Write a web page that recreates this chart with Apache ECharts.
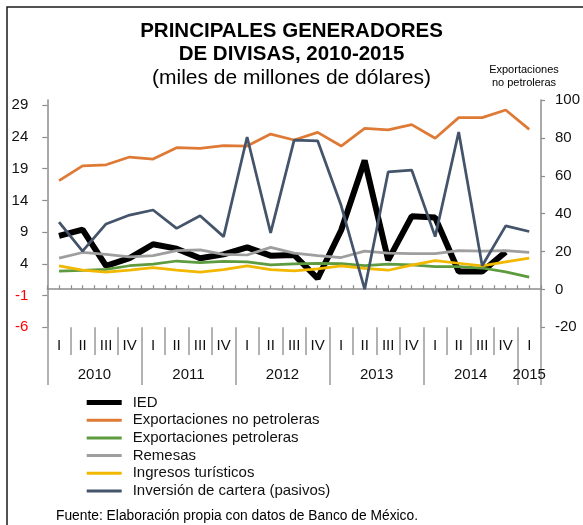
<!DOCTYPE html>
<html>
<head>
<meta charset="utf-8">
<title>Principales generadores de divisas, 2010-2015</title>
<script src="https://cdn.jsdelivr.net/npm/echarts@6/dist/echarts.min.js"></script>
<style>
  html, body { margin: 0; padding: 0; background: #fff; }
  #echart { width: 583px; height: 525px; }
</style>
</head>
<body>
<div id="echart"></div>
<script>
// trimestres y años (etiquetas del eje horizontal)
const quarters = ["I", "II", "III", "IV", "I", "II", "III", "IV", "I", "II", "III", "IV",
  "I", "II", "III", "IV", "I", "II", "III", "IV", "I"];
const years = ["2010", "2010", "2010", "2010", "2011", "2011", "2011", "2011", "2012", "2012", "2012", "2012",
  "2013", "2013", "2013", "2013", "2014", "2014", "2014", "2014", "2015"];

// miles de millones de dólares (eje izquierdo)
const ied = [8.4, 9.4, 3.7, 4.9, 7.1, 6.4, 4.9, 5.5, 6.6, 5.3, 5.4, 1.7, 9.3, 20.3, 4.6, 11.5, 11.3, 2.8, 2.8, 5.9, null];
const remesas = [4.9, 5.8, 5.5, 5.1, 5.3, 6.1, 6.2, 5.5, 5.4, 6.6, 5.7, 5.3, 5.0, 6.0, 5.7, 5.6, 5.6, 6.1, 6.0, 6.1, 5.8];
const turismo = [3.7, 3.0, 2.7, 3.0, 3.4, 3.0, 2.7, 3.1, 3.7, 3.1, 2.9, 3.2, 3.7, 3.3, 3.0, 3.8, 4.5, 4.1, 3.7, 4.3, 4.9];
const cartera = [10.6, 6.0, 10.3, 11.7, 12.5, 9.6, 11.6, 8.3, 24.0, 8.9, 23.5, 23.4, 13.2, 0.0, 18.5, 18.8, 8.3, 24.8, 3.7, 10.0, 9.1];
// eje derecho
const expNoPetroleras = [57.4, 65.2, 65.8, 69.9, 68.8, 74.8, 74.5, 75.9, 75.7, 82.0, 78.9, 82.9, 75.7, 85.0, 84.2, 87.0, 79.8, 90.7, 90.7, 94.7, 84.5];
const expPetroleras = [9.7, 10.1, 10.6, 12.5, 13.4, 15.0, 14.1, 14.8, 14.6, 13.0, 13.5, 13.8, 13.6, 12.5, 13.4, 13.0, 12.0, 12.0, 11.3, 9.3, 6.5];

const leftTicks = [-6, -1, 4, 9, 14, 19, 24, 29];

const periods = years.map((y, i) => y + "-" + quarters[i]);

// etiqueta del año en el centro de sus trimestres
const yearLabelAt = {};
years.forEach((y, i) => {
  if (i > 0 && years[i - 1] === y) return;
  let n = 0;
  while (years[i + n] === y) n++;
  const mid = i + (n - 1) / 2;
  yearLabelAt[Math.floor(mid)] = mid !== Math.floor(mid);
});

const font = "'Liberation Sans', Arial, sans-serif";
const gray = "#8c8c8c";
const thinIcon = "path://M0 0H35V3H0Z";

const myecharts = echarts.init(document.getElementById("echart"));

const baseX = {
  type: "category",
  gridIndex: 0,
  data: periods,
  position: "bottom",
  axisLabel: { show: false },
  axisTick: { show: false },
  axisLine: { show: false, onZero: false },
  splitLine: { show: false },
};

const options = {
  animation: false,
  textStyle: { fontFamily: font },
  graphic: [
    {
      type: "rect",
      shape: { x: 7, y: 7, width: 620, height: 560 },
      style: { fill: "none", stroke: "#1a1a1a", lineWidth: 1.5 },
      silent: true,
    },
  ],
  title: [
    {
      text: "PRINCIPALES GENERADORES\nDE DIVISAS, 2010-2015",
      left: "center",
      top: 19.5,
      padding: 0,
      textStyle: { fontSize: 20.5, fontWeight: "bold", lineHeight: 23.5, color: "#000", fontFamily: font },
    },
    {
      text: "(miles de millones de dólares)",
      left: "center",
      top: 66,
      padding: 0,
      textStyle: { fontSize: 21, fontWeight: "normal", lineHeight: 24, color: "#000", fontFamily: font },
    },
    {
      text: "Exportaciones\nno petroleras",
      left: 524,
      top: 63,
      padding: 0,
      textAlign: "center",
      textStyle: { fontSize: 11, fontWeight: "normal", lineHeight: 13.3, color: "#000", fontFamily: font },
    },
    {
      text: "Fuente: Elaboración propia con datos de Banco de México.",
      left: 56,
      top: 509,
      padding: 0,
      textStyle: { fontSize: 13.8, fontWeight: "normal", color: "#000", fontFamily: font },
    },
  ],
  legend: {
    orient: "vertical",
    left: 86.7,
    top: 395,
    padding: 0,
    itemWidth: 35,
    itemHeight: 5,
    itemGap: 2.7,
    symbolKeepAspect: true,
    selectedMode: false,
    itemStyle: { borderWidth: 0 },
    textStyle: { fontSize: 15, color: "#111", padding: [0, 0, 0, 6], fontFamily: font },
    data: [
      { name: "IED", icon: "rect" },
      { name: "Exportaciones no petroleras", icon: thinIcon },
      { name: "Exportaciones petroleras", icon: thinIcon },
      { name: "Remesas", icon: thinIcon },
      { name: "Ingresos turísticos", icon: thinIcon },
      { name: "Inversión de cartera (pasivos)", icon: thinIcon },
    ],
  },
  grid: { left: 47.3, right: 35.8, top: 100, bottom: 197.7 },
  xAxis: [
    // trimestres
    {
      ...baseX,
      axisTick: { show: true, interval: 0, length: 27.7, lineStyle: { color: "#999", width: 1.5 } },
      axisLabel: {
        show: true,
        interval: 0,
        margin: 11,
        fontSize: 15,
        color: "#111",
        formatter: (v, i) => quarters[i],
      },
    },
    // años
    {
      ...baseX,
      axisTick: {
        show: true,
        interval: (i) => i === 0 || years[i] !== years[i - 1],
        length: 57.7,
        lineStyle: { color: "#999", width: 1.5 },
      },
      axisLabel: {
        show: true,
        interval: (i) => i in yearLabelAt,
        margin: 40,
        fontSize: 15,
        color: "#111",
        formatter: (v, i) => (yearLabelAt[i] ? "{s|" + years[i] + "}" : years[i]),
        rich: { s: { fontSize: 15, color: "#111", padding: [0, 0, 0, 23.8] } },
      },
    },
    // línea del cero, marcas en los bordes
    {
      ...baseX,
      axisLine: { show: true, onZero: true, onZeroAxisIndex: 0, lineStyle: { color: gray, width: 1.5 } },
      axisTick: { show: true, interval: 0, inside: true, length: 4, lineStyle: { color: gray, width: 1.2 } },
    },
    // línea del cero, marcas en los centros
    {
      ...baseX,
      axisLine: { show: false, onZero: true, onZeroAxisIndex: 0 },
      axisTick: { show: true, interval: 0, alignWithLabel: true, inside: true, length: 4, lineStyle: { color: gray, width: 1.2 } },
    },
  ],
  yAxis: [
    {
      type: "value",
      position: "left",
      min: -6,
      max: 29.84,
      splitLine: { show: false },
      axisLine: { show: true, onZero: false, lineStyle: { color: gray, width: 1.5 } },
      axisTick: { show: true, length: 5, customValues: leftTicks, lineStyle: { color: gray, width: 1.2 } },
      axisLabel: {
        customValues: leftTicks,
        margin: 19,
        fontSize: 15,
        color: (v) => (Number(v) < 0 ? "#FF0000" : "#111"),
      },
    },
    {
      type: "value",
      position: "right",
      min: -20,
      max: 100,
      interval: 20,
      splitLine: { show: false },
      axisLine: { show: true, onZero: false, lineStyle: { color: gray, width: 1.5 } },
      axisTick: { show: true, length: 4, lineStyle: { color: gray, width: 1.2 } },
      axisLabel: { margin: 14, fontSize: 15, color: "#111" },
    },
  ],
  series: [
    { name: "IED", type: "line", yAxisIndex: 0, data: ied, color: "#000", lineStyle: { width: 6 } },
    { name: "Exportaciones no petroleras", type: "line", yAxisIndex: 1, data: expNoPetroleras, color: "#DE7A35", lineStyle: { width: 2.75 } },
    { name: "Exportaciones petroleras", type: "line", yAxisIndex: 1, data: expPetroleras, color: "#5E9B3E", lineStyle: { width: 2.75 } },
    { name: "Remesas", type: "line", yAxisIndex: 0, data: remesas, color: "#9E9E9E", lineStyle: { width: 2.75 } },
    { name: "Ingresos turísticos", type: "line", yAxisIndex: 0, data: turismo, color: "#F2B800", lineStyle: { width: 2.75 } },
    { name: "Inversión de cartera (pasivos)", type: "line", yAxisIndex: 0, data: cartera, color: "#44546A", lineStyle: { width: 2.75 } },
  ].map((s) => ({ ...s, xAxisIndex: 0, symbol: "none", silent: true })),
};

myecharts.setOption(options);
</script>
</body>
</html>
